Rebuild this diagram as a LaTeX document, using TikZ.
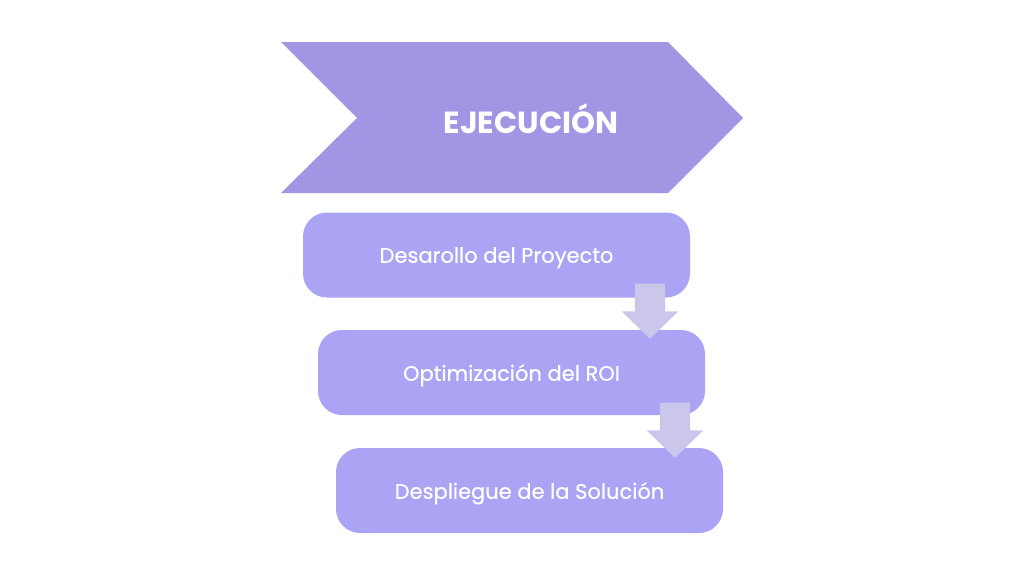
\documentclass[tikz,border=0pt]{standalone}
\usepackage{fontspec}
\setmainfont{Poppins}
\newfontfamily\stagefont[FakeBold=0.6]{Poppins}
\usetikzlibrary{shapes.arrows}
\definecolor{chevronpurple}{RGB}{160,150,228}
\definecolor{boxpurple}{RGB}{171,163,243}
\definecolor{arrowlilac}{RGB}{203,199,234}

\begin{document}
\begin{tikzpicture}[x=1pt,y=-1pt,
  stage/.style={fill=boxpurple, rounded corners=24pt, minimum width=387pt,
    minimum height=85pt, text=white, text depth=0pt,
    font=\stagefont\fontsize{21}{25}\selectfont},
  downarrow/.style={single arrow, fill=arrowlilac, rotate=-90,
    inner xsep=0pt, inner ysep=15pt, minimum height=55pt,
    single arrow head extend=13pt, single arrow tip angle=92}]

  \fill[white] (0,0) rectangle (1024,576);
  \useasboundingbox (0,0) rectangle (1024,576);

  % chevron header
  \fill[chevronpurple] (281,42) -- (668,42) -- (743,118) -- (668,193)
    -- (281,193) -- (357,118) -- cycle;
  \node[text=white, font=\fontsize{30.5}{36}\selectfont\bfseries] (title) at (531,119) {EJECUCIÓN};

  % stages
  \node[stage] (dev) at (496.5,255) {Desarollo del Proyecto};
  \node[stage] (roi) at (511.5,372.5) {Optimización del ROI};
  \node[stage] (sol) at (529.5,490.5) {Despliegue de la Solución};

  % block arrows between stages
  \node[downarrow, anchor=tip] (arr1) at (650,339) {};
  \node[downarrow, anchor=tip] (arr2) at (675,458) {};
\end{tikzpicture}
\end{document}
